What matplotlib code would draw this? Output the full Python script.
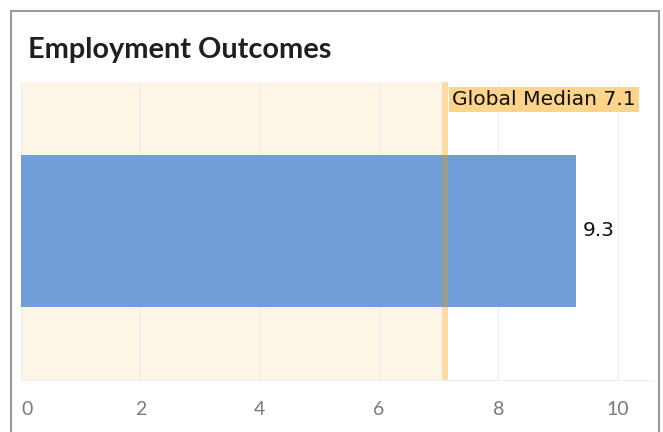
import matplotlib.pyplot as plt
from matplotlib.patches import Rectangle

categories = ["Employment Outcomes"]
values = [9.3]
median = 7.1
median_label = "Global Median 7.1"
xticks = [0, 2, 4, 6, 8, 10]

bar_h = 0.51

fig = plt.figure(figsize=(6.63, 4.32), dpi=100)
fig.patches.append(Rectangle((11 / 663, -0.05), 648 / 663, 1.05 - 11 / 432, transform=fig.transFigure,
                             fill=False, edgecolor="#9a9a9a", linewidth=1.5))
fig.text(28 / 663, 1 - 50 / 432, "Employment Outcomes", fontsize=20.8, fontweight="bold",
         family="Lato", color="#1f1f1f", va="center", ha="left")

ax = fig.add_axes([21 / 663, 1 - 380 / 432, 632 / 663, 298 / 432])
ax.set_xlim(0, 10.59)
ax.set_ylim(-0.5, 0.5)

# shaded region up to the median
ax.axvspan(0, median, color="#fdf5e6", zorder=0)
ax.axvline(median, color="#fbdca2", linewidth=4.3, zorder=1.5)
ax.barh([0], values, height=bar_h, color="#719dd9", zorder=2)
ax.vlines(median, -bar_h / 2, bar_h / 2, color="#999c96", linewidth=4.3, zorder=3)

ax.text(values[0] + 0.12, 0, f"{values[0]}", va="center", ha="left", fontsize=14.5, color="#111111")
ax.text(median + 0.13, 0.44, median_label, va="center", ha="left", fontsize=14.6, color="#111111",
        bbox=dict(facecolor="#fcd48a", edgecolor="none", pad=2.2), zorder=4)

ax.set_xticks(xticks)
labels = ax.set_xticklabels([str(t) for t in xticks], family="Lato", fontsize=14, color="#7a7a7a")
labels[0].set_horizontalalignment("left")
ax.set_yticks([])
ax.tick_params(axis="x", length=0, pad=15)
ax.grid(axis="x", color="#eeeeee", linewidth=1, zorder=1)
ax.set_axisbelow(True)
for s in ["top", "right", "left"]:
    ax.spines[s].set_visible(False)
ax.spines["bottom"].set_color("#eeeeee")

plt.savefig("out.png", dpi=100)
